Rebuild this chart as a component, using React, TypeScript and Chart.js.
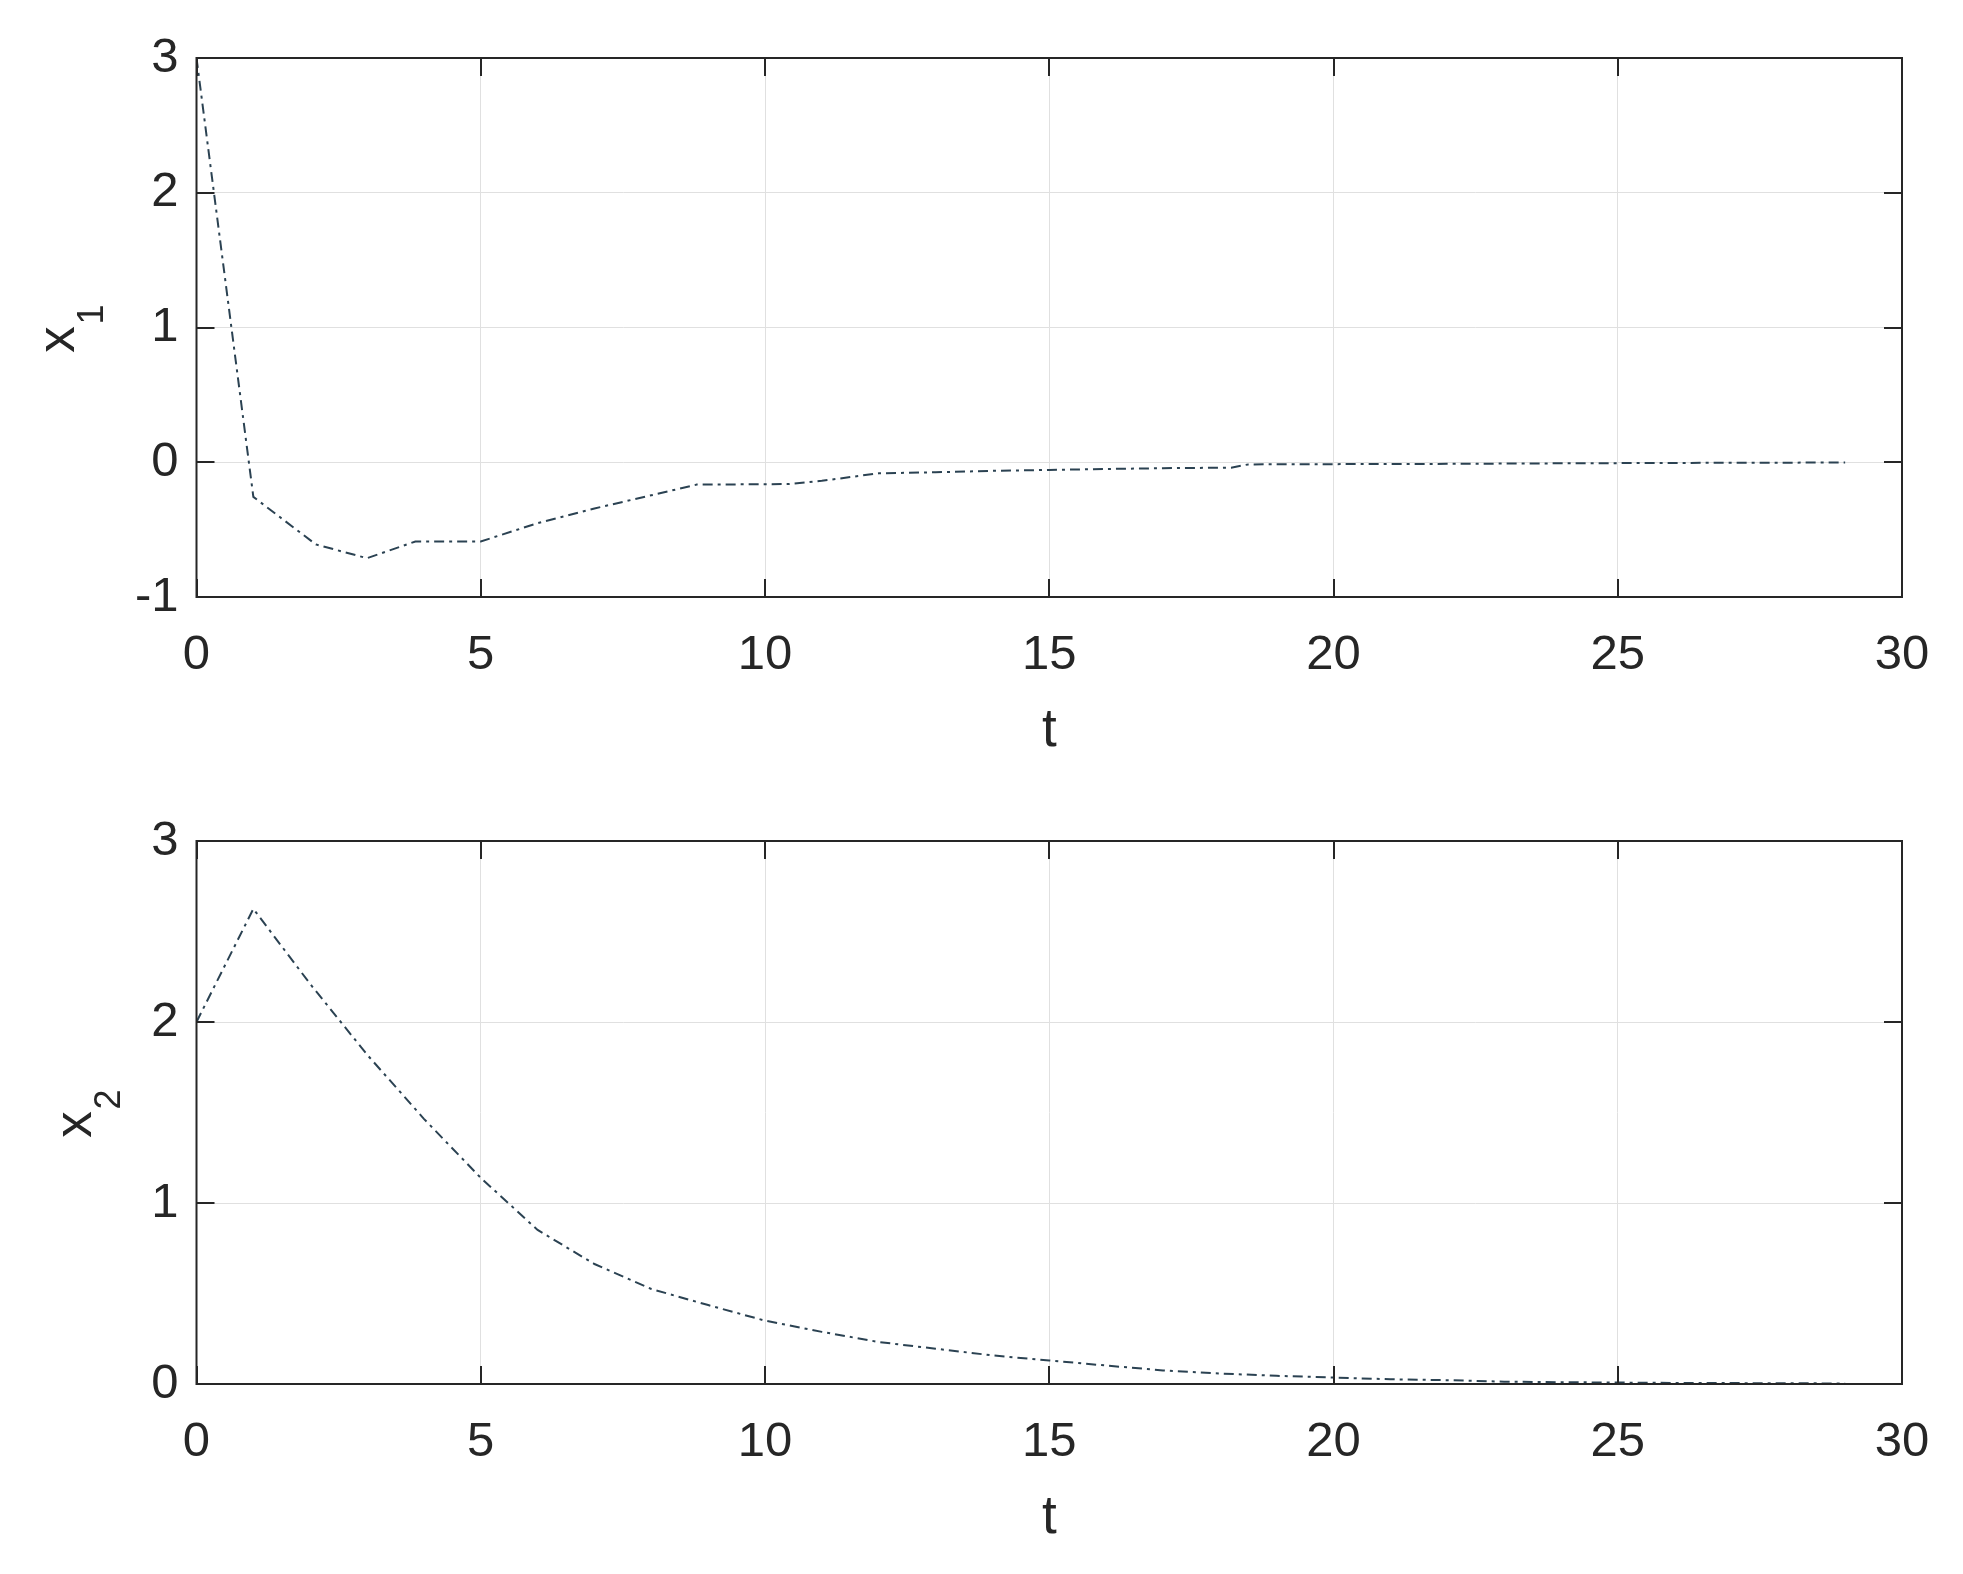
import React, { useEffect, useRef } from "react";
import { Chart, registerables } from "chart.js";

Chart.register(...registerables);

// ---------- data ----------
const t1 = [0, 1, 2.1, 3, 3.85, 5, 6, 7, 8, 8.8, 10.4, 11, 12, 13, 14, 15, 16, 17, 18.2, 18.5, 20, 22, 24, 26, 29];
const x1 = [3, -0.257, -0.61, -0.712, -0.588, -0.588, -0.452, -0.343, -0.245, -0.166, -0.162, -0.138, -0.082, -0.074, -0.064, -0.057, -0.05, -0.044, -0.04, -0.016, -0.014, -0.012, -0.008, -0.005, -0.002];

const t2 = [0, 1, 2, 3, 4, 5, 6, 7, 8, 9, 10, 11, 12, 13, 14, 15, 16, 17, 18, 19, 20, 21, 22, 23, 24, 25, 26, 27, 28, 29];
const x2 = [2, 2.625, 2.21, 1.82, 1.465, 1.139, 0.851, 0.663, 0.525, 0.436, 0.35, 0.288, 0.232, 0.195, 0.158, 0.13, 0.102, 0.075, 0.058, 0.045, 0.036, 0.026, 0.021, 0.013, 0.01, 0.008, 0.006, 0.005, 0.004, 0.003];

const xTickValues = [0, 5, 10, 15, 20, 25, 30];
const x1TickValues = [-1, 0, 1, 2, 3];
const x2TickValues = [0, 1, 2, 3];

const xLabel = "t";
const y1Label = { main: "x", sub: "1" };
const y2Label = { main: "x", sub: "2" };

// ---------- style ----------
const FONT = "'Liberation Sans', Arial, Helvetica, sans-serif";
const TEXT = "#262626";
const LINE = "#2b4252";
const GRID = "#e0e0e0";
const W = 1963;
const H = 787;

const matlabAxes = {
  id: "matlabAxes",
  afterDatasetsDraw(chart: any, _args: any, opts: any) {
    const { ctx, chartArea } = chart;
    const { left, right, top, bottom } = chartArea;
    const xs = chart.scales.x;
    const ys = chart.scales.y;
    const L = 18;
    ctx.save();
    ctx.strokeStyle = TEXT;
    ctx.lineWidth = 2;
    ctx.beginPath();
    xs.ticks.forEach((tk: any) => {
      const px = Math.round(xs.getPixelForValue(tk.value));
      ctx.moveTo(px, bottom);
      ctx.lineTo(px, bottom - L);
      ctx.moveTo(px, top);
      ctx.lineTo(px, top + L);
    });
    ys.ticks.forEach((tk: any) => {
      const py = Math.round(ys.getPixelForValue(tk.value));
      ctx.moveTo(left, py);
      ctx.lineTo(left + L, py);
      ctx.moveTo(right, py);
      ctx.lineTo(right - L, py);
    });
    ctx.stroke();
    ctx.strokeRect(left, top, right - left, bottom - top);
    ctx.restore();

    // y label with subscript
    const cy = (top + bottom) / 2;
    ctx.save();
    ctx.fillStyle = TEXT;
    ctx.translate(opts.baseX, cy + 12);
    ctx.rotate(-Math.PI / 2);
    ctx.textBaseline = "alphabetic";
    ctx.textAlign = "center";
    ctx.font = `53px ${FONT}`;
    ctx.fillText(opts.main, 0, 0);
    ctx.font = `36px ${FONT}`;
    ctx.fillText(opts.sub, 25, 29);
    ctx.restore();
  },
};

function makeConfig(xs: number[], ys: number[], yTicks: number[], padTop: number, labelX: number, lbl: { main: string; sub: string }) {
  const yMin = yTicks[0];
  const yMax = yTicks[yTicks.length - 1];
  return {
    type: "line",
    data: {
      datasets: [
        {
          data: xs.map((x, i) => ({ x, y: ys[i] })),
          borderColor: LINE,
          borderWidth: 2,
          borderDash: [10, 5, 3, 5],
          pointRadius: 0,
          fill: false,
          tension: 0,
        },
      ],
    },
    options: {
      animation: false,
      responsive: false,
      devicePixelRatio: 1,
      layout: { padding: { top: padTop, right: 61, bottom: 0, left: 0 } },
      plugins: {
        legend: { display: false },
        tooltip: { enabled: false },
        matlabAxes: { baseX: labelX, main: lbl.main, sub: lbl.sub },
      },
      scales: {
        x: {
          type: "linear",
          min: xTickValues[0],
          max: xTickValues[xTickValues.length - 1],
          afterBuildTicks: (s: any) => {
            s.ticks = xTickValues.map((v) => ({ value: v }));
          },
          afterFit: (s: any) => {
            s.height = 190;
          },
          grid: { color: GRID, lineWidth: 1, drawTicks: false },
          border: { display: false },
          ticks: {
            padding: 29,
            color: TEXT,
            font: { family: FONT, size: 49 },
            maxRotation: 0,
          },
          title: {
            display: true,
            text: xLabel,
            color: TEXT,
            font: { family: FONT, size: 53 },
            padding: { top: 0, bottom: 24 },
          },
        },
        y: {
          type: "linear",
          min: yMin,
          max: yMax,
          afterBuildTicks: (s: any) => {
            s.ticks = yTicks.map((v) => ({ value: v }));
          },
          afterFit: (s: any) => {
            s.width = 196.5;
          },
          grid: { color: GRID, lineWidth: 1, drawTicks: false },
          border: { display: false },
          ticks: {
            padding: 18,
            color: TEXT,
            font: { family: FONT, size: 49 },
          },
        },
      },
    },
    plugins: [matlabAxes],
  } as any;
}

function Panel(props: { xs: number[]; ys: number[]; yTicks: number[]; padTop: number; labelX: number; lbl: { main: string; sub: string }; top: number }) {
  const ref = useRef<HTMLCanvasElement | null>(null);
  useEffect(() => {
    if (!ref.current) return;
    const chart = new Chart(ref.current, makeConfig(props.xs, props.ys, props.yTicks, props.padTop, props.labelX, props.lbl));
    return () => chart.destroy();
  }, []);
  return (
    <canvas
      ref={ref}
      width={W}
      height={H}
      style={{ position: "absolute", left: 0, top: props.top, width: W, height: H }}
    />
  );
}

export default function App() {
  return (
    <div style={{ position: "absolute", left: 0, top: 0, width: W, height: 1574, background: "#ffffff", overflow: "hidden" }}>
      <Panel xs={t1} ys={x1} yTicks={x1TickValues} padTop={58} labelX={74} lbl={y1Label} top={0} />
      <Panel xs={t2} ys={x2} yTicks={x2TickValues} padTop={54} labelX={91} lbl={y2Label} top={787} />
    </div>
  );
}
